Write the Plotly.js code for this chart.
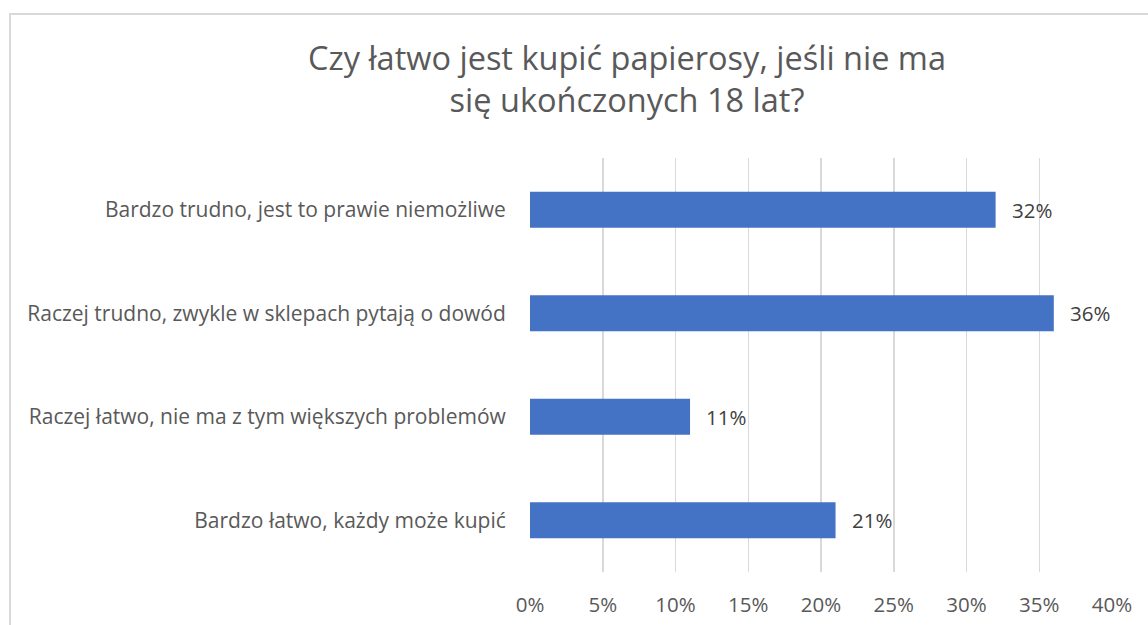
<!DOCTYPE html>
<html>
<head>
<meta charset="utf-8">
<script src="https://cdn.plot.ly/plotly-3.0.1.min.js"></script>
<style>
html,body{margin:0;padding:0;background:#fff;overflow:hidden;}
#frame{position:absolute;left:9px;top:13px;width:1200px;height:700px;border-left:2px solid #d9d9d9;border-top:2px solid #d9d9d9;pointer-events:none;}
#chart{position:absolute;left:0;top:0;width:1148px;height:625px;}
</style>
</head>
<body>
<div id="chart"></div>
<div id="frame"></div>
<script>
const categories = [
  "Bardzo łatwo, każdy może kupić",
  "Raczej łatwo, nie ma z tym większych problemów",
  "Raczej trudno, zwykle w sklepach pytają o dowód",
  "Bardzo trudno, jest to prawie niemożliwe"
];
const values = [0.21, 0.11, 0.36, 0.32];
const valueLabels = ["21%", "11%", "36%", "32%"];
const tickVals = [0, 0.05, 0.10, 0.15, 0.20, 0.25, 0.30, 0.35, 0.40];
const tickLabels = ["0%", "5%", "10%", "15%", "20%", "25%", "30%", "35%", "40%"];
const chartTitle = "Czy łatwo jest kupić papierosy, jeśli nie ma<br>się ukończonych 18 lat?";

const FONT = "'Open Sans', Lato, sans-serif";

const trace = {
  type: "bar",
  orientation: "h",
  y: categories,
  x: values,
  marker: {color: "#4472c4"},
  hoverinfo: "none"
};

const annotations = values.map((v, i) => ({
  x: v,
  y: categories[i],
  xref: "x",
  yref: "y",
  text: valueLabels[i],
  showarrow: false,
  xanchor: "left",
  yanchor: "middle",
  xshift: 14,
  font: {family: FONT, size: 20.5, color: "#404040"}
}));

const layout = {
  width: 1148,
  height: 625,
  paper_bgcolor: "#ffffff",
  plot_bgcolor: "#ffffff",
  margin: {l: 530, r: 36, t: 158, b: 53},
  bargap: 0.652,
  showlegend: false,
  font: {family: FONT, color: "#595959"},
  annotations: annotations,
  title: {
    text: chartTitle,
    font: {family: FONT, size: 32.5, color: "#595959"},
    x: 627/1148,
    xref: "container",
    xanchor: "center",
    y: 1 - 70/625,
    yref: "container",
    yanchor: "top"
  },
  xaxis: {
    range: [0, 0.40],
    tickvals: tickVals,
    ticktext: tickLabels,
    showgrid: true,
    gridcolor: "#d9d9d9",
    gridwidth: 1.5,
    zeroline: false,
    showline: false,
    ticks: "outside",
    ticklen: 14,
    tickcolor: "rgba(0,0,0,0)",
    tickfont: {family: FONT, size: 20.5, color: "#595959"},
    fixedrange: true
  },
  yaxis: {
    showgrid: false,
    zeroline: false,
    showline: false,
    ticks: "outside",
    ticklen: 19,
    tickcolor: "rgba(0,0,0,0)",
    tickfont: {family: FONT, size: 21, color: "#595959"},
    fixedrange: true
  }
};

Plotly.newPlot("chart", [trace], layout, {displayModeBar: false, staticPlot: true});
</script>
</body>
</html>
